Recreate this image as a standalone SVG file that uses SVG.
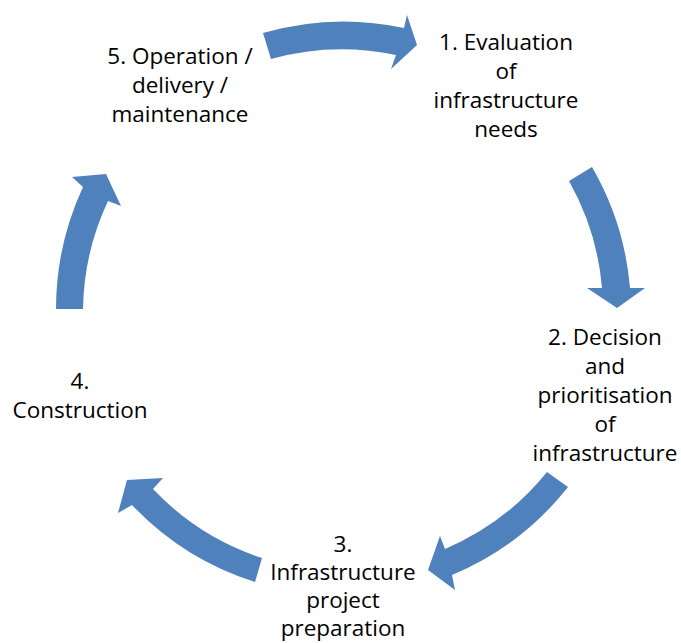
<svg xmlns="http://www.w3.org/2000/svg" width="681" height="643" viewBox="0 0 681 643">
<style>
.arrow{fill:#4F81BD;stroke:none}
.lbl{font-family:"Open Sans","Liberation Sans",sans-serif;font-size:22.5px;fill:#000;text-anchor:middle}
</style>
<rect width="681" height="643" fill="#fff"/>
<g id="connectors">
<path class="arrow" d="M263,33 A290,290 0 0 1 404,28 L407,15 L417,45 L391,69 L396,55 A263,263 0 0 0 271,59 Z"/>
<path class="arrow" d="M592,167 A290,290 0 0 1 630,288 L645,288 L617,308 L587,288 L602,288 A263,263 0 0 0 569,181 Z"/>
<path class="arrow" d="M568,487 A290,290 0 0 1 452,575 L455,590 L428,570 L440,536 L445,549 A263,263 0 0 0 547,472 Z"/>
<path class="arrow" d="M255,582 A290,290 0 0 1 132,505 L118,513 L127,480 L163,478 L153,489 A263,263 0 0 0 262,558 Z"/>
<path class="arrow" d="M56,309 A290,290 0 0 1 83,187 L72,177 L106,174 L121,206 L108,201 A263,263 0 0 0 83,309 Z"/>
</g>
<g id="node1">
<text class="lbl" x="506" y="50">1. Evaluation</text>
<text class="lbl" x="506" y="79">of</text>
<text class="lbl" x="506" y="108">infrastructure</text>
<text class="lbl" x="506" y="137">needs</text>
</g>
<g id="node2">
<text class="lbl" x="605" y="345">2. Decision</text>
<text class="lbl" x="605" y="374">and</text>
<text class="lbl" x="605" y="403">prioritisation</text>
<text class="lbl" x="605" y="432">of</text>
<text class="lbl" x="605" y="461">infrastructure</text>
</g>
<g id="node3">
<text class="lbl" x="343" y="552">3.</text>
<text class="lbl" x="343" y="580">Infrastructure</text>
<text class="lbl" x="343" y="608">project</text>
<text class="lbl" x="343" y="636">preparation</text>
</g>
<g id="node4">
<text class="lbl" x="80" y="389">4.</text>
<text class="lbl" x="80" y="418">Construction</text>
</g>
<g id="node5">
<text class="lbl" x="180" y="64">5. Operation /</text>
<text class="lbl" x="180" y="93">delivery /</text>
<text class="lbl" x="180" y="122">maintenance</text>
</g>
</svg>
